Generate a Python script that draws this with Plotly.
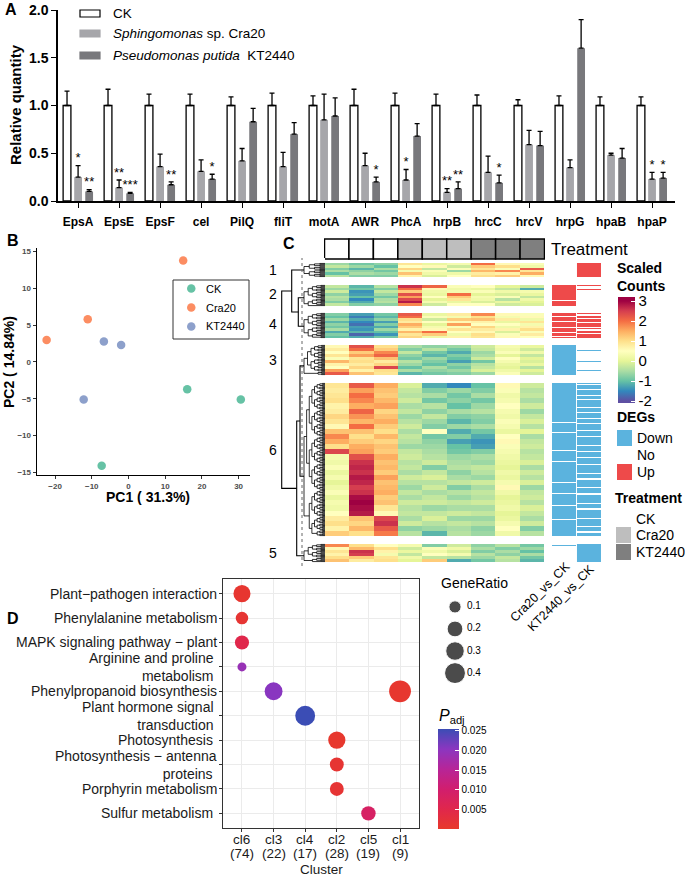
import numpy as np
import plotly.graph_objects as go

W, H = 685, 876
FONT = "Liberation Sans, Arial, Helvetica, sans-serif"


def fx(px):
    return px / W


def fy(py):
    return 1 - py / H


# ---------- A: relative quantity of virulence genes
genes = ["EpsA", "EpsE", "EpsF", "cel", "PilQ", "fliT", "motA", "AWR",
         "PhcA", "hrpB", "hrcC", "hrcV", "hrpG", "hpaB", "hpaP"]
ck_mean = [1.0, 1.0, 1.0, 1.0, 1.0, 1.0, 1.0, 1.0, 1.0, 1.0, 1.0, 1.0, 1.0, 1.0, 1.0]
ck_err = [0.15, 0.17, 0.12, 0.12, 0.09, 0.13, 0.10, 0.17, 0.13, 0.12, 0.11, 0.06, 0.10, 0.09, 0.09]
cra20_mean = [0.25, 0.14, 0.36, 0.31, 0.42, 0.36, 0.85, 0.37, 0.22, 0.09, 0.30, 0.59, 0.35, 0.48, 0.23]
cra20_err = [0.12, 0.08, 0.13, 0.12, 0.13, 0.15, 0.27, 0.13, 0.11, 0.04, 0.17, 0.15, 0.08, 0.02, 0.07]
kt2440_mean = [0.10, 0.08, 0.17, 0.23, 0.83, 0.70, 0.89, 0.20, 0.68, 0.13, 0.19, 0.58, 1.60, 0.45, 0.24]
kt2440_err = [0.02, 0.01, 0.03, 0.05, 0.14, 0.12, 0.19, 0.05, 0.13, 0.07, 0.08, 0.15, 0.30, 0.10, 0.06]
cra20_sig = ["*", "**", "", "", "", "", "", "", "*", "**", "", "", "", "", "*"]
kt2440_sig = ["**", "***", "**", "*", "", "", "", "*", "", "**", "*", "", "", "", "*"]

# ---------- B: PCA
pca_group = ["CK", "CK", "CK", "Cra20", "Cra20", "Cra20", "KT2440", "KT2440", "KT2440"]
pc1 = [16.0, 30.6, -7.3, -22.3, -11.1, 14.9, -6.7, -2.0, -12.2]
pc2 = [-3.7, -5.1, -14.1, 3.0, 5.8, 13.8, 2.8, 2.3, -5.1]

# ---------- C: scaled counts heatmap (rows grouped in 6 clusters)
samples = ["CK", "CK", "CK", "Cra20", "Cra20", "Cra20", "KT2440", "KT2440", "KT2440"]
slice_order = ["1", "2", "4", "3", "6", "5"]

expr_s1 = [
    [-0.6, -0.9, -0.7, 0.9, 0.1, 0.3, 2.0, 0.6, 0.4],
    [-0.3, -0.6, -1.0, 0.5, 0.6, -0.2, 1.2, 1.0, 0.2],
    [-0.8, -1.1, -0.5, 1.1, -0.3, 0.4, 0.9, 0.4, 2.2],
    [-0.5, -0.7, -0.9, 0.3, 0.4, -0.6, 1.4, 1.8, 0.9],
    [-1.0, -0.5, -0.6, 1.3, 0.2, 0.2, 0.8, 0.7, 1.5],
    [-0.4, -0.8, -0.8, 0.7, -0.1, 0.5, 1.0, 1.2, 0.6],
]
expr_s2 = [
    [-0.3, -1.1, -0.4, 2.6, 2.1, 0.4, 0.5, 0.0, -0.2],
    [-0.6, -0.9, -0.8, 2.0, 0.6, 0.2, 0.1, -0.3, -1.2],
    [-0.2, -1.4, -0.3, 1.2, 0.2, 0.3, 0.4, 0.2, 0.3],
    [-0.7, -1.3, -0.6, 2.3, 0.1, 2.0, 0.0, -0.1, 0.1],
    [-0.4, -1.0, -0.9, 1.6, 0.5, 1.2, 0.3, 0.4, -0.3],
    [-0.5, -1.5, -0.5, 2.4, 0.0, 0.9, 0.2, -0.4, 0.2],
    [-0.8, -1.2, -0.4, 2.8, 0.3, 0.1, -0.1, 0.1, 0.0],
    [-0.3, -0.8, -0.7, 1.8, -0.2, 0.5, 0.5, -0.2, -0.1],
]
expr_s4 = [
    [-0.8, -1.3, -0.9, 2.2, 0.1, 0.8, 1.8, 0.6, 0.4],
    [-1.0, -1.6, -1.1, 2.0, 0.4, 0.3, 1.0, 0.3, 0.6],
    [-0.6, -1.2, -0.7, 1.0, -0.2, 1.2, 1.3, 0.8, 0.2],
    [-1.1, -1.5, -1.3, 0.8, 0.5, 0.6, 0.7, 0.1, 0.9],
    [-0.7, -1.7, -0.8, 1.5, 0.0, 1.6, 0.5, 0.5, 0.3],
    [-0.9, -1.3, -1.2, 1.2, 0.3, 0.4, 1.1, 0.2, 0.7],
    [-0.5, -1.4, -0.6, 0.7, 0.6, 0.9, 0.8, 0.7, 1.0],
    [-1.2, -1.1, -1.0, 1.4, 2.0, 0.5, 0.6, -0.1, 0.4],
    [-0.8, -1.8, -1.4, 0.9, 1.2, 0.2, 1.0, 0.4, 0.8],
    [-1.0, -1.2, -0.9, 1.1, 0.2, 0.7, 0.9, 0.6, 0.5],
]
expr_s3 = [
    [0.6, 2.3, 1.0, -0.5, -0.7, -0.6, -0.2, 0.3, 0.1],
    [0.8, 2.0, 1.2, -0.8, -0.4, -0.9, -0.3, 0.2, -0.2],
    [0.5, 1.2, 1.8, -0.3, -0.9, -1.2, -0.6, 0.4, 0.2],
    [0.9, 1.6, 2.1, -0.7, -1.1, -0.8, -0.5, 0.0, -0.3],
    [0.4, 0.9, 1.3, -0.9, -0.6, -1.0, -0.2, 0.5, 0.0],
    [1.4, 1.0, 0.8, -0.4, -0.8, -1.3, -0.9, 0.3, -0.1],
    [0.7, 0.8, 1.1, -0.6, -1.0, -0.7, -0.4, 0.1, 0.1],
    [0.5, 1.1, 2.4, -1.0, -0.5, -0.9, -0.3, 0.0, -0.4],
    [1.6, 0.7, 1.0, -0.5, -0.7, -0.6, -0.1, 0.2, 0.0],
    [2.2, 1.3, 0.9, -1.1, -0.9, -0.8, -0.6, 0.4, -0.2],
]
expr_s6 = [
    [0.9, 2.2, 1.5, -0.1, -1.2, -1.5, -1.0, 0.6, -0.2],
    [0.8, 1.6, 1.3, -0.3, -0.8, -0.6, -0.8, 0.4, -0.4],
    [0.9, 2.0, 1.2, -0.4, -0.5, -0.9, -0.5, 0.2, -0.3],
    [1.0, 1.8, 1.4, -0.2, -0.9, -0.7, -0.9, 0.3, -0.5],
    [0.7, 1.5, 1.6, -0.5, -0.4, -1.0, -0.6, 0.5, -0.2],
    [0.8, 2.1, 1.1, -0.3, -0.7, -0.5, -0.4, 0.3, -0.6],
    [1.1, 1.7, 1.3, -0.6, -0.3, -0.8, -0.7, 0.2, -0.3],
    [0.9, 1.4, 1.5, -0.4, -0.6, -1.1, -0.8, 0.4, -0.1],
    [0.6, 2.0, 1.2, -0.2, -0.8, -0.6, -0.5, 0.3, -0.4],
    [1.3, 1.3, 1.0, -0.5, 0.5, -1.2, -0.9, 0.1, 0.0],
    [1.8, 1.0, 1.4, -0.3, -0.9, -0.8, -1.2, 0.5, -0.5],
    [1.5, 1.2, 1.1, -0.4, -0.7, -1.3, -1.4, 0.6, -0.3],
    [1.0, 1.5, 1.3, -0.6, -0.6, -1.0, -1.3, 0.4, -0.2],
    [2.4, 1.6, 1.2, -0.3, -0.5, -0.9, -0.8, 0.3, -0.4],
    [0.3, 2.3, 1.5, -0.2, -0.4, -0.6, -0.5, 0.2, -0.3],
    [0.2, 2.6, 1.3, -0.4, -0.2, -0.5, -0.6, 0.1, -0.1],
    [0.4, 2.7, 1.4, -0.3, -0.8, -0.4, -0.3, 0.0, -0.5],
    [0.1, 2.6, 1.2, -0.5, -0.3, -0.7, -0.4, 0.2, -0.2],
    [0.3, 2.8, 1.6, -0.2, -0.1, -0.5, -0.6, 0.1, -0.4],
    [0.0, 2.7, 1.3, -0.4, -0.4, -0.3, -0.2, 0.3, -0.1],
    [0.2, 2.5, 1.4, -0.6, -0.2, -0.8, -0.5, 0.6, -0.6],
    [0.4, 2.6, 1.5, -0.3, -0.5, -0.4, -0.3, 0.2, -0.3],
    [0.1, 2.9, 1.2, -0.5, -0.3, -0.6, -0.4, 0.0, -0.2],
    [0.3, 3.0, 1.3, -0.2, -0.2, -0.3, -0.2, 0.1, -0.4],
    [0.2, 2.9, 0.9, -0.4, -0.6, -0.5, -0.5, 0.2, -0.1],
    [0.5, 2.8, 0.6, -0.3, -0.3, -0.2, -0.3, 0.0, -0.3],
    [0.8, 1.3, 2.4, -0.5, -0.1, -0.6, -0.6, 0.1, -0.5],
    [1.0, 1.1, 2.6, -0.2, -0.4, -0.3, -0.4, 0.3, -0.2],
    [0.7, 1.4, 2.2, -0.7, -0.6, -0.5, -0.7, 0.5, -0.8],
    [1.2, 1.0, 1.9, -0.4, -1.1, -0.4, -0.6, 0.2, -0.4],
]
expr_s5 = [
    [1.8, 1.0, 0.5, 0.3, -0.8, -0.2, -0.7, -0.4, -0.9],
    [0.6, 1.4, 1.0, -0.2, 0.4, 0.2, -0.5, -0.8, -0.6],
    [0.9, 2.6, 0.7, 0.1, 0.2, -0.1, -0.8, -0.5, -1.0],
    [0.7, 2.5, 0.3, -0.3, 0.5, 0.3, -0.4, -0.7, -0.5],
    [1.0, 1.2, 0.9, 0.2, -0.3, -0.4, -0.6, -0.3, -0.9],
    [1.3, 0.8, 1.0, 0.0, 1.2, -1.2, -0.9, -0.4, -1.1],
]
expr = {"1": expr_s1, "2": expr_s2, "4": expr_s4, "3": expr_s3, "6": expr_s6, "5": expr_s5}

# DEG status per row: D = Down, N = No, U = Up
deg_cra20 = {
    "1": "NNNNNNNNNNNN",
    "2": "UUUUUUUUUUUUUUUUUUUUUUUNUUUUUUUU",
    "4": "UUNUUUNUUUUNUUUNUUNU",
    "3": "DDDDDDDDDDDDDDDDDDDDDDDD",
    "6": "DDDDDDDDDDDDDDDDDDDDDDDDDDDDDDDDDDDDDDNDDDDDDDDDNDDDDDDDDDDDDDDDDDNDDDDDDDDDD"
         "NDDDDDDDDDDDDDDDDDDDDNDDDDDDDDDDNDDDDDDDDDDNDDDDDDDDDDDDDNDDDDDDDDDDDDDDDD",
    "5": "NNDNNNNDNNNNNNNNNNNNNNNNNNNN",
}
deg_kt2440 = {
    "1": "UUUUUUUUUUUU",
    "2": "UNNNNNUNNNNNNUNNNNNNNUNNNNNUNNNN",
    "4": "UNUUNUUNUUUNUNUUNUUU",
    "3": "NNNNNNNNNDNNNNNNNNNNNNNNNNNDNNNNNNNNNNNNNNDNNNNNNN",
    "6": "DNDDDNDDDDNDDDNDDDDDDNDDDNDDDDNDDDDNDDDDDNDDDDNDDDDDDDNDDDDNDDDDNDDD"
         "DDNDDDDDDDNDDDDNDDDDDDNDDDDDNDDDDDDDNDDDDNDDDDDDDNDDDDDDNDDDDNDDD",
    "5": "DDDDDDDDDDDDDD",
}

# ---------- D: KEGG enrichment per cluster
clusters = ["cl6", "cl3", "cl4", "cl2", "cl5", "cl1"]
cluster_sizes = [74, 22, 17, 28, 19, 9]
pathways = ["Plant\u2212pathogen interaction", "Phenylalanine metabolism",
            "MAPK signaling pathway \u2212 plant", "Arginine and proline metabolism",
            "Phenylpropanoid biosynthesis", "Plant hormone signal transduction",
            "Photosynthesis", "Photosynthesis \u2212 antenna proteins",
            "Porphyrin metabolism", "Sulfur metabolism"]
pathway_labels = ["Plant\u2212pathogen interaction", "Phenylalanine metabolism",
                  "MAPK signaling pathway \u2212 plant",
                  "Arginine and proline\u00a0<br>metabolism\u00a0",
                  "Phenylpropanoid biosynthesis",
                  "Plant hormone signal\u00a0<br>transduction\u00a0",
                  "Photosynthesis\u00a0", "Photosynthesis \u2212 antenna<br>proteins\u00a0",
                  "Porphyrin metabolism", "Sulfur metabolism\u00a0"]
enr_cluster = ["cl6", "cl6", "cl6", "cl6", "cl3", "cl1", "cl4", "cl2", "cl2", "cl2", "cl5"]
enr_pathway = [pathways[0], pathways[1], pathways[2], pathways[3], pathways[4], pathways[4],
               pathways[5], pathways[6], pathways[7], pathways[8], pathways[9]]
enr_ratio = [0.243, 0.108, 0.149, 0.040, 0.273, 0.444, 0.353, 0.250, 0.143, 0.143, 0.158]
enr_padj = [0.0008, 0.0012, 0.0050, 0.0190, 0.0205, 0.0006, 0.0255, 0.0004, 0.0012, 0.0014, 0.0085]
ratio_legend = [0.1, 0.2, 0.3, 0.4]


def ratio_size(r):
    return 3.5 + 27.5 * np.sqrt(np.asarray(r, dtype=float))


fig = go.Figure()
hid = dict(visible=False, showgrid=False, zeroline=False, fixedrange=True)

# ---------------- panel A
idx = np.arange(len(genes))
bar_specs = [
    ("CK", ck_mean, ck_err, None, "white", 1.3, -0.27),
    ("Cra20", cra20_mean, cra20_err, cra20_sig, "#A6A6AA", 0, 0.0),
    ("KT2440", kt2440_mean, kt2440_err, kt2440_sig, "#78787C", 0, 0.27),
]
for name, mean, err, sig, color, lw, off in bar_specs:
    fig.add_bar(x=idx + off, y=mean, width=0.19, name=name, showlegend=False,
                marker=dict(color=color, line=dict(color="black", width=lw)),
                error_y=dict(type="data", symmetric=False, array=err,
                             arrayminus=np.zeros(len(err)), color="black",
                             thickness=1.3, width=2.5),
                xaxis="x", yaxis="y")
    if sig:
        fig.add_scatter(x=idx + off, y=np.array(mean) + np.array(err), text=sig,
                        mode="text", textposition="top center", showlegend=False,
                        textfont=dict(size=13, color="black", family=FONT),
                        cliponaxis=False, xaxis="x", yaxis="y")

# ---------------- panel B
pca_colors = {"CK": "#66C2A5", "Cra20": "#FC8D62", "KT2440": "#8DA0CB"}
for g, col in pca_colors.items():
    sel = [i for i, v in enumerate(pca_group) if v == g]
    fig.add_scatter(x=[pc1[i] for i in sel], y=[pc2[i] for i in sel], mode="markers",
                    name=g, showlegend=False,
                    marker=dict(size=8.5, color=col, line=dict(width=0)),
                    xaxis="x2", yaxis="y2")

# ---------------- panel C
slice_px = {"1": (263, 277), "2": (285, 306), "4": (313, 338),
            "3": (345, 375), "6": (383, 536), "5": (544, 562)}
deg_code = {"D": -1, "N": 0, "U": 1}
deg_scale = [[0, "#5BB3DE"], [0.25, "#5BB3DE"], [0.25, "white"], [0.75, "white"],
             [0.75, "#EE4A4A"], [1, "#EE4A4A"]]
for k, s in enumerate(slice_order):
    ya = "y%d" % (3 + k)
    z = expr[s]
    n = len(z)
    fig.add_heatmap(z=z, coloraxis="coloraxis", xaxis="x3", yaxis=ya, hoverinfo="skip")
    for col_i, deg in enumerate([deg_cra20[s], deg_kt2440[s]]):
        m = len(deg)
        dy = n / m
        fig.add_heatmap(z=[[deg_code[c]] for c in deg], x=[col_i * 1.04], y0=-0.5 + dy / 2,
                        dy=dy, colorscale=deg_scale, zmin=-1, zmax=1, showscale=False,
                        xaxis="x4", yaxis=ya, hoverinfo="skip")
    top, bot = slice_px[s]
    fig.layout["yaxis%d" % (3 + k)] = dict(hid, domain=[fy(bot), fy(top)],
                                           range=[n - 0.5, -0.5], anchor="x3")

treat_colors = {"CK": "white", "Cra20": "#BEBEBE", "KT2440": "#7F7F7F"}
fig.add_bar(x=np.arange(len(samples)), y=np.ones(len(samples)), width=1, showlegend=False,
            marker=dict(color=[treat_colors[s] for s in samples],
                        line=dict(color="black", width=1.5)),
            xaxis="x5", yaxis="y9", hoverinfo="skip")


# dendrograms (pixel space axis)
def fine_tree(top, bot, n, x_leaf=325.0, x_root=304.0):
    ys = list(top + (np.arange(n) + 0.5) * (bot - top) / n)
    xs = [x_leaf] * n
    levels = max(1, int(np.ceil(np.log2(n))))
    step = (x_leaf - x_root) / levels
    lx, ly, lvl = [], [], 0
    while len(ys) > 1:
        lvl += 1
        xn = x_leaf - lvl * step
        nys, nxs = [], []
        for i in range(0, len(ys) - 1, 2):
            lx += [xs[i], xn, xn, xs[i + 1], None]
            ly += [ys[i], ys[i], ys[i + 1], ys[i + 1], None]
            nys.append((ys[i] + ys[i + 1]) / 2)
            nxs.append(xn)
        if len(ys) % 2:
            nys.append(ys[-1])
            nxs.append(xs[-1])
        ys, xs = nys, nxs
    return lx, ly, (xs[0], ys[0])


tx, ty, roots = [], [], {}
for s in slice_order:
    top, bot = slice_px[s]
    lx, ly, r = fine_tree(top, bot, int((bot - top) * 1.2))
    tx += lx
    ty += ly
    roots[s] = r
fig.add_scatter(x=tx, y=ty, mode="lines", line=dict(color="black", width=0.8),
                showlegend=False, xaxis="x6", yaxis="y10", hoverinfo="skip")

mx, my = [], []


def join(a, b, h):
    mx.extend([a[0], h, h, b[0], None])
    my.extend([a[1], a[1], b[1], b[1], None])
    return (h, (a[1] + b[1]) / 2)


node_a = join(roots["2"], roots["4"], 298.3)
node_b = join(roots["1"], node_a, 291.7)
node_e = join(roots["3"], roots["6"], 300.0)
node_c = join(node_e, roots["5"], 296.7)
join(node_b, node_c, 281.7)
fig.add_scatter(x=mx, y=my, mode="lines", line=dict(color="black", width=1.1),
                showlegend=False, xaxis="x6", yaxis="y10", hoverinfo="skip")

# ---------------- panel D
fig.add_scatter(x=enr_cluster, y=enr_pathway, mode="markers", showlegend=False,
                marker=dict(size=ratio_size(enr_ratio), color=enr_padj,
                            coloraxis="coloraxis2", line=dict(width=0), opacity=1),
                xaxis="x7", yaxis="y11")
fig.add_scatter(x=np.zeros(len(ratio_legend)), y=ratio_legend, mode="markers",
                showlegend=False, marker=dict(size=ratio_size(ratio_legend), color="black"),
                xaxis="x8", yaxis="y12", hoverinfo="skip")
fig.add_scatter(x=np.full(len(ratio_legend), 12.0), y=ratio_legend, mode="text",
                text=[str(v) for v in ratio_legend], textposition="middle right",
                textfont=dict(size=10, color="black", family=FONT),
                showlegend=False, xaxis="x8", yaxis="y12", hoverinfo="skip")

# ---------------- layout
spectral = ["#5E4FA2", "#3288BD", "#66C2A5", "#ABDDA4", "#E6F598", "#FFFFBF",
            "#FEE08B", "#FDAE61", "#F46D43", "#D53E4F", "#9E0142"]
cmin, cmax = -2.1, 3.2
spec_vals = np.linspace(-2, 3, len(spectral))
spec_scale = [[0, spectral[0]]] + [[(v - cmin) / (cmax - cmin), c]
                                   for v, c in zip(spec_vals, spectral)] + [[1, spectral[-1]]]

padj_scale = [[0, "#E8392B"], [0.2, "#E0274C"], [0.4, "#D11E6E"], [0.6, "#B72598"],
              [0.8, "#8B36C0"], [1, "#3B4DB5"]]

fig.update_layout(
    width=W, height=H, autosize=False, template="none",
    margin=dict(l=0, r=0, t=0, b=0),
    paper_bgcolor="white", plot_bgcolor="white",
    font=dict(family=FONT, color="black"),
    barmode="overlay", showlegend=False,
    # A
    xaxis=dict(domain=[fx(58), fx(675)], range=[-0.49, 14.56], anchor="y",
               tickvals=idx, ticktext=genes, ticks="outside", ticklen=5, tickwidth=1.3,
               tickcolor="black", showline=True, linecolor="black", linewidth=1.5,
               showgrid=False, zeroline=False, ticklabelstandoff=4,
               tickfont=dict(family=FONT, size=12, color="black", weight="bold")),
    yaxis=dict(domain=[fy(201), fy(10)], range=[0, 2.0], anchor="x",
               tickvals=[0, 0.5, 1.0, 1.5, 2.0], ticktext=["0.0", "0.5", "1.0", "1.5", "2.0"],
               ticks="outside", ticklen=5, tickwidth=1.3, tickcolor="black",
               showline=True, linecolor="black", linewidth=1.5, showgrid=False,
               zeroline=False,
               tickfont=dict(family=FONT, size=14, color="black", weight="bold")),
    # B
    xaxis2=dict(domain=[fx(36.7), fx(250)], range=[-25, 33.1], anchor="y2",
                tickvals=[-20, -10, 0, 10, 20, 30], ticks="outside", ticklen=3,
                tickcolor="#333", showline=True, linecolor="black", linewidth=1.2,
                showgrid=False, zeroline=False,
                tickfont=dict(family=FONT, size=8, color="#4D4D4D", weight="bold")),
    yaxis2=dict(domain=[fy(475), fy(248)], range=[-15.37, 15.5], anchor="x2",
                tickvals=[-15, -10, -5, 0, 5, 10, 15], ticks="outside", ticklen=3,
                tickcolor="#333", showline=True, linecolor="black", linewidth=1.2,
                showgrid=False, zeroline=False,
                tickfont=dict(family=FONT, size=8, color="#4D4D4D", weight="bold")),
    # C
    xaxis3=dict(hid, domain=[fx(325), fx(544)], range=[-0.5, 8.5], anchor="y3"),
    xaxis4=dict(hid, domain=[fx(552), fx(601)], range=[-0.5, 1.54], anchor="y3"),
    xaxis5=dict(hid, domain=[fx(324), fx(545)], range=[-0.52, 8.52], anchor="y9"),
    yaxis9=dict(hid, domain=[fy(260), fy(238)], range=[-0.05, 1.05], anchor="x5"),
    xaxis6=dict(hid, domain=[fx(270), fx(325)], range=[270, 325], anchor="y10"),
    yaxis10=dict(hid, domain=[fy(566), fy(258)], range=[566, 258], anchor="x6"),
    coloraxis=dict(cmin=cmin, cmax=cmax, colorscale=spec_scale,
                   colorbar=dict(x=fx(618), xanchor="left", y=fy(297), yanchor="top",
                                 len=106, lenmode="pixels", thickness=17, xpad=0, ypad=0,
                                 outlinewidth=0, tickvals=[-2, -1, 0, 1, 2, 3],
                                 ticktext=["-2", "-1", "0", "1", "2", "3"],
                                 ticks="inside", tickcolor="white", ticklen=4,
                                 tickfont=dict(family=FONT, size=15, color="black"))),
    # D
    xaxis7=dict(domain=[fx(223), fx(419)], range=[-0.6, 5.6], anchor="y11", type="category",
                categoryorder="array", categoryarray=clusters, tickvals=clusters,
                showticklabels=False, ticks="outside", ticklen=3, tickcolor="#333",
                showline=True, mirror=True, linecolor="#333", linewidth=1, showgrid=True,
                gridcolor="#EBEBEB", gridwidth=1, zeroline=False),
    yaxis11=dict(domain=[fy(828), fy(579)], range=[9.6, -0.6], anchor="x7", type="category",
                 categoryorder="array", categoryarray=pathways, tickvals=pathways,
                 showticklabels=False, ticks="outside", ticklen=3, tickcolor="#333",
                 showline=True, mirror=True, linecolor="#333", linewidth=1, showgrid=True,
                 gridcolor="#EBEBEB", gridwidth=1, zeroline=False),
    xaxis8=dict(hid, domain=[fx(440), fx(500)], range=[-15, 45], anchor="y12"),
    yaxis12=dict(hid, domain=[fy(683), fy(597)], range=[0.445, 0.055], anchor="x8"),
    coloraxis2=dict(cmin=0, cmax=0.0255, colorscale=padj_scale,
                    colorbar=dict(x=fx(438), xanchor="left", y=fy(729), yanchor="top",
                                  len=100, lenmode="pixels", thickness=21, xpad=0, ypad=0,
                                  outlinewidth=0,
                                  tickvals=[0.005, 0.010, 0.015, 0.020, 0.025],
                                  ticktext=["0.005", "0.010", "0.015", "0.020", "0.025"],
                                  ticks="inside", tickcolor="white", ticklen=4,
                                  tickfont=dict(family=FONT, size=10, color="black"))),
)

ann = []
shapes = []


def text(x, y, s, size=13, bold=False, xanchor="left", yanchor="middle", angle=0,
         color="black", align="left", pad=1):
    ann.append(dict(x=fx(x), y=fy(y), xref="paper", yref="paper", text=s, showarrow=False,
                    xanchor=xanchor, yanchor=yanchor, textangle=angle, align=align,
                    borderpad=pad,
                    font=dict(family=FONT, size=size, color=color,
                              weight="bold" if bold else "normal")))


def rect(x0, x1, y0, y1, fill, line_color=None, width=0, kind="rect"):
    shapes.append(dict(type=kind, xref="paper", yref="paper", x0=fx(x0), x1=fx(x1),
                       y0=fy(y1), y1=fy(y0), fillcolor=fill,
                       line=dict(color=line_color or fill, width=width)))


# panel letters
text(3, 10, "A", 16, True)
text(5, 240, "B", 16, True)
text(281, 243, "C", 16, True)
text(5, 618, "D", 16, True)

# A labels and legend
text(15, 105, "Relative quantity", 15, True, "center", "middle", -90)
legend_a = [("CK", "white", 13.5), ("<i>Sphingomonas</i> sp. Cra20", "#A6A6AA", 33.5),
            ("<i>Pseudomonas putida</i>\u00a0 KT2440", "#78787C", 55.5)]
for label, col, yc in legend_a:
    rect(80, 100, yc - 3.5, yc + 3.5, col, "black" if col == "white" else col, 1.2)
    text(111, yc, label, 13.5)

# B labels and legend box
text(148, 497, "PC1 ( 31.3%)", 14, True, "center")
text(9, 362, "PC2 ( 14.84%)", 14, True, "center", "middle", -90)
rect(173, 249, 280, 339, "rgba(0,0,0,0)", "#333", 1)
for (g, col), yc in zip(pca_colors.items(), [288.5, 307.5, 326.5]):
    rect(187, 195.5, yc - 4.25, yc + 4.25, col, kind="circle")
    text(204, yc, g, 11)

# C labels
row_label_y = {"1": 270, "2": 294, "4": 324, "3": 360, "6": 450, "5": 553}
for s, yv in row_label_y.items():
    text(273, yv, s, 14, False, "center")
text(549, 249, "Treatment", 17)
text(615, 268, "Scaled", 14, True)
text(615, 286, "Counts", 14, True)
text(615, 417, "DEGs", 14, True)
text(635, 438, "Down", 14)
text(635, 455, "No", 14)
text(635, 472, "Up", 14)
rect(617, 632, 430, 446, "#5BB3DE")
rect(617, 632, 464, 480, "#EE4A4A")
text(613, 498, "Treatment", 14, True)
for lab, yv in [("CK", 519), ("Cra20", 535), ("KT2440", 552)]:
    text(634, yv, lab, 14)
    rect(616, 631, yv - 8, yv + 8, treat_colors[lab])
text(540, 592, "Cra20_vs_CK", 12.5, False, "center", "middle", -45)
text(561, 598, "KT2440_vs_CK", 12.5, False, "center", "middle", -45)
shapes.append(dict(type="line", xref="paper", yref="paper", x0=fx(302), x1=fx(302),
                   y0=fy(566), y1=fy(258), line=dict(color="#666", width=1, dash="dot")))

# D tick labels, titles
for i, lab in enumerate(pathway_labels):
    ann.append(dict(x=fx(219), xref="paper", y=i, yref="y11", text=lab, showarrow=False,
                    xanchor="right", yanchor="middle", align="right",
                    font=dict(family=FONT, size=14, color="#1A1A1A")))
for i, (c, nsz) in enumerate(zip(clusters, cluster_sizes)):
    for line_txt, yv in [(c, 839), ("(%d)" % nsz, 853.5)]:
        ann.append(dict(x=i, xref="x7", y=fy(yv), yref="paper", text=line_txt,
                        showarrow=False, xanchor="center", yanchor="middle", borderpad=0,
                        font=dict(family=FONT, size=13.5, color="#1A1A1A")))
text(321, 869.5, "Cluster", 13.5, False, "center", "middle", color="#1A1A1A", pad=0)
text(439, 583, "GeneRatio", 14)
text(437, 716, "<i>P</i><sub>adj</sub>", 16)

fig.update_layout(annotations=ann, shapes=shapes)

fig.write_html("out.html", config={"displayModeBar": False},
               post_script="document.body.style.margin='0';")
